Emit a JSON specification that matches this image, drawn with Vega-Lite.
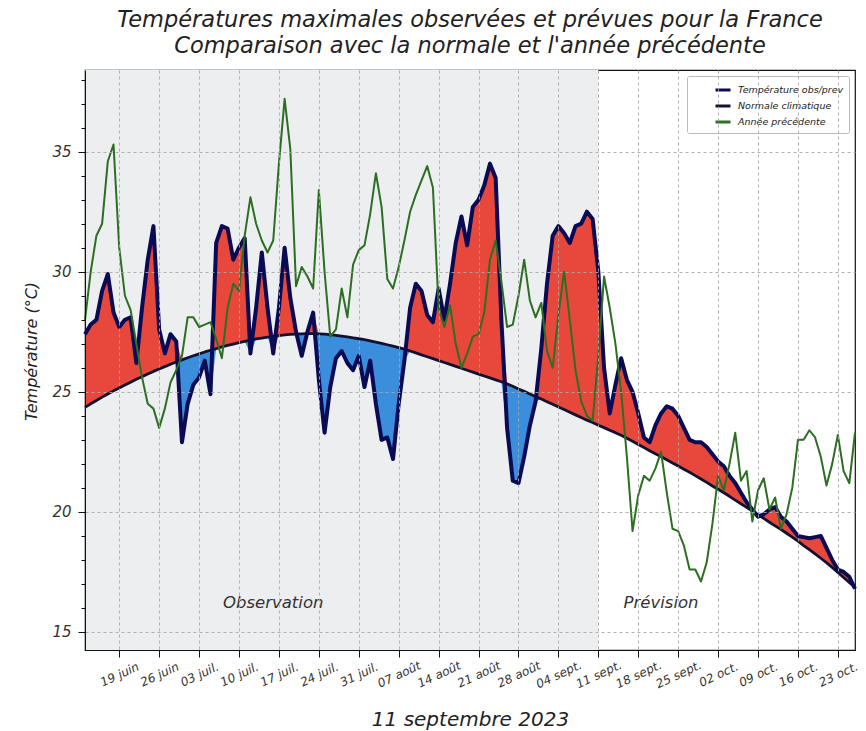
{
  "$schema": "https://vega.github.io/schema/vega-lite/v6.json",
  "width": 770,
  "height": 580,
  "autosize": {"type": "none"},
  "padding": {"left": 85, "top": 70, "right": 11, "bottom": 81},
  "background": "white",
  "title": {
    "text": ["Températures maximales observées et prévues pour la France", "Comparaison avec la normale et l'année précédente"],
    "font": "DejaVu Sans", "fontSize": 22.5, "fontStyle": "italic", "fontWeight": "normal",
    "color": "#222222", "anchor": "middle", "lineHeight": 26, "offset": 13
  },
  "data": {
    "values": [
      {"date":"2023-06-13","obs":27.4,"normal":24.35,"prev":28.0},
      {"date":"2023-06-14","obs":27.8,"normal":24.50,"prev":30.0},
      {"date":"2023-06-15","obs":28.0,"normal":24.64,"prev":31.5},
      {"date":"2023-06-16","obs":29.2,"normal":24.78,"prev":32.0},
      {"date":"2023-06-17","obs":29.9,"normal":24.91,"prev":34.6},
      {"date":"2023-06-18","obs":28.3,"normal":25.04,"prev":35.3},
      {"date":"2023-06-19","obs":27.7,"normal":25.16,"prev":31.0},
      {"date":"2023-06-20","obs":28.0,"normal":25.28,"prev":29.0},
      {"date":"2023-06-21","obs":28.1,"normal":25.40,"prev":28.4},
      {"date":"2023-06-22","obs":26.2,"normal":25.52,"prev":27.0},
      {"date":"2023-06-23","obs":28.5,"normal":25.63,"prev":25.6},
      {"date":"2023-06-24","obs":30.5,"normal":25.74,"prev":24.5},
      {"date":"2023-06-25","obs":31.9,"normal":25.85,"prev":24.3},
      {"date":"2023-06-26","obs":27.6,"normal":25.95,"prev":23.5},
      {"date":"2023-06-27","obs":26.6,"normal":26.05,"prev":24.3},
      {"date":"2023-06-28","obs":27.4,"normal":26.15,"prev":25.4},
      {"date":"2023-06-29","obs":27.1,"normal":26.24,"prev":25.9},
      {"date":"2023-06-30","obs":22.9,"normal":26.33,"prev":26.5},
      {"date":"2023-07-01","obs":24.5,"normal":26.42,"prev":28.1},
      {"date":"2023-07-02","obs":25.3,"normal":26.50,"prev":28.1},
      {"date":"2023-07-03","obs":25.6,"normal":26.58,"prev":27.7},
      {"date":"2023-07-04","obs":26.3,"normal":26.66,"prev":27.8},
      {"date":"2023-07-05","obs":24.9,"normal":26.73,"prev":27.9},
      {"date":"2023-07-06","obs":31.2,"normal":26.80,"prev":27.2},
      {"date":"2023-07-07","obs":31.9,"normal":26.87,"prev":26.4},
      {"date":"2023-07-08","obs":31.8,"normal":26.93,"prev":28.5},
      {"date":"2023-07-09","obs":30.5,"normal":26.99,"prev":29.5},
      {"date":"2023-07-10","obs":31.0,"normal":27.05,"prev":29.2},
      {"date":"2023-07-11","obs":31.4,"normal":27.10,"prev":31.5},
      {"date":"2023-07-12","obs":26.6,"normal":27.15,"prev":33.1},
      {"date":"2023-07-13","obs":28.5,"normal":27.20,"prev":32.0},
      {"date":"2023-07-14","obs":30.8,"normal":27.24,"prev":31.3},
      {"date":"2023-07-15","obs":28.5,"normal":27.28,"prev":30.8},
      {"date":"2023-07-16","obs":26.6,"normal":27.31,"prev":31.3},
      {"date":"2023-07-17","obs":28.5,"normal":27.34,"prev":34.5},
      {"date":"2023-07-18","obs":31.0,"normal":27.37,"prev":37.2},
      {"date":"2023-07-19","obs":28.9,"normal":27.39,"prev":35.1},
      {"date":"2023-07-20","obs":27.5,"normal":27.40,"prev":29.4},
      {"date":"2023-07-21","obs":26.5,"normal":27.41,"prev":30.2},
      {"date":"2023-07-22","obs":27.5,"normal":27.42,"prev":29.8},
      {"date":"2023-07-23","obs":28.3,"normal":27.42,"prev":29.3},
      {"date":"2023-07-24","obs":25.5,"normal":27.41,"prev":33.4},
      {"date":"2023-07-25","obs":23.3,"normal":27.40,"prev":30.0},
      {"date":"2023-07-26","obs":25.2,"normal":27.38,"prev":27.3},
      {"date":"2023-07-27","obs":26.4,"normal":27.35,"prev":27.6},
      {"date":"2023-07-28","obs":26.7,"normal":27.32,"prev":29.3},
      {"date":"2023-07-29","obs":26.2,"normal":27.29,"prev":28.1},
      {"date":"2023-07-30","obs":25.9,"normal":27.25,"prev":30.3},
      {"date":"2023-07-31","obs":26.5,"normal":27.21,"prev":30.9},
      {"date":"2023-08-01","obs":25.2,"normal":27.17,"prev":31.1},
      {"date":"2023-08-02","obs":26.3,"normal":27.12,"prev":32.4},
      {"date":"2023-08-03","obs":24.5,"normal":27.07,"prev":34.1},
      {"date":"2023-08-04","obs":23.0,"normal":27.02,"prev":32.7},
      {"date":"2023-08-05","obs":23.1,"normal":26.96,"prev":29.7},
      {"date":"2023-08-06","obs":22.2,"normal":26.90,"prev":29.3},
      {"date":"2023-08-07","obs":24.5,"normal":26.84,"prev":30.2},
      {"date":"2023-08-08","obs":26.3,"normal":26.78,"prev":31.3},
      {"date":"2023-08-09","obs":28.5,"normal":26.70,"prev":32.5},
      {"date":"2023-08-10","obs":29.5,"normal":26.62,"prev":33.2},
      {"date":"2023-08-11","obs":29.2,"normal":26.54,"prev":33.8},
      {"date":"2023-08-12","obs":28.2,"normal":26.46,"prev":34.4},
      {"date":"2023-08-13","obs":27.9,"normal":26.38,"prev":33.5},
      {"date":"2023-08-14","obs":29.3,"normal":26.30,"prev":28.5},
      {"date":"2023-08-15","obs":28.0,"normal":26.22,"prev":27.7},
      {"date":"2023-08-16","obs":29.5,"normal":26.14,"prev":28.6},
      {"date":"2023-08-17","obs":31.2,"normal":26.06,"prev":27.0},
      {"date":"2023-08-18","obs":32.3,"normal":25.98,"prev":26.0},
      {"date":"2023-08-19","obs":31.1,"normal":25.90,"prev":26.6},
      {"date":"2023-08-20","obs":32.7,"normal":25.82,"prev":27.3},
      {"date":"2023-08-21","obs":33.0,"normal":25.74,"prev":27.4},
      {"date":"2023-08-22","obs":33.6,"normal":25.66,"prev":28.3},
      {"date":"2023-08-23","obs":34.5,"normal":25.58,"prev":30.5},
      {"date":"2023-08-24","obs":33.9,"normal":25.50,"prev":31.3},
      {"date":"2023-08-25","obs":28.0,"normal":25.42,"prev":29.6},
      {"date":"2023-08-26","obs":23.5,"normal":25.33,"prev":27.7},
      {"date":"2023-08-27","obs":21.3,"normal":25.23,"prev":27.8},
      {"date":"2023-08-28","obs":21.2,"normal":25.12,"prev":29.0},
      {"date":"2023-08-29","obs":22.3,"normal":25.02,"prev":30.5},
      {"date":"2023-08-30","obs":23.6,"normal":24.91,"prev":28.8},
      {"date":"2023-08-31","obs":24.6,"normal":24.80,"prev":28.1},
      {"date":"2023-09-01","obs":26.8,"normal":24.70,"prev":28.7},
      {"date":"2023-09-02","obs":29.5,"normal":24.59,"prev":26.7},
      {"date":"2023-09-03","obs":31.5,"normal":24.48,"prev":26.0},
      {"date":"2023-09-04","obs":31.9,"normal":24.37,"prev":28.2},
      {"date":"2023-09-05","obs":31.6,"normal":24.26,"prev":30.0},
      {"date":"2023-09-06","obs":31.2,"normal":24.15,"prev":28.0},
      {"date":"2023-09-07","obs":31.9,"normal":24.04,"prev":25.9},
      {"date":"2023-09-08","obs":32.0,"normal":23.93,"prev":24.6},
      {"date":"2023-09-09","obs":32.5,"normal":23.82,"prev":24.0},
      {"date":"2023-09-10","obs":32.2,"normal":23.72,"prev":23.8},
      {"date":"2023-09-11","obs":30.0,"normal":23.61,"prev":26.5},
      {"date":"2023-09-12","obs":26.0,"normal":23.51,"prev":29.8},
      {"date":"2023-09-13","obs":24.1,"normal":23.40,"prev":28.5},
      {"date":"2023-09-14","obs":25.3,"normal":23.30,"prev":27.0},
      {"date":"2023-09-15","obs":26.4,"normal":23.19,"prev":25.0},
      {"date":"2023-09-16","obs":25.5,"normal":23.07,"prev":22.3},
      {"date":"2023-09-17","obs":25.0,"normal":22.94,"prev":19.2},
      {"date":"2023-09-18","obs":24.1,"normal":22.81,"prev":20.7},
      {"date":"2023-09-19","obs":23.1,"normal":22.68,"prev":21.5},
      {"date":"2023-09-20","obs":22.9,"normal":22.55,"prev":21.3},
      {"date":"2023-09-21","obs":23.6,"normal":22.42,"prev":21.8},
      {"date":"2023-09-22","obs":24.1,"normal":22.30,"prev":22.5},
      {"date":"2023-09-23","obs":24.4,"normal":22.17,"prev":20.8},
      {"date":"2023-09-24","obs":24.3,"normal":22.04,"prev":19.3},
      {"date":"2023-09-25","obs":24.0,"normal":21.91,"prev":19.2},
      {"date":"2023-09-26","obs":23.5,"normal":21.78,"prev":18.6},
      {"date":"2023-09-27","obs":23.0,"normal":21.65,"prev":17.6},
      {"date":"2023-09-28","obs":22.9,"normal":21.51,"prev":17.6},
      {"date":"2023-09-29","obs":22.9,"normal":21.37,"prev":17.1},
      {"date":"2023-09-30","obs":22.7,"normal":21.23,"prev":17.9},
      {"date":"2023-10-01","obs":22.4,"normal":21.08,"prev":19.5},
      {"date":"2023-10-02","obs":22.1,"normal":20.94,"prev":21.5},
      {"date":"2023-10-03","obs":21.9,"normal":20.80,"prev":20.9},
      {"date":"2023-10-04","obs":21.5,"normal":20.65,"prev":22.0},
      {"date":"2023-10-05","obs":21.2,"normal":20.49,"prev":23.3},
      {"date":"2023-10-06","obs":20.8,"normal":20.34,"prev":21.3},
      {"date":"2023-10-07","obs":20.4,"normal":20.19,"prev":21.7},
      {"date":"2023-10-08","obs":20.1,"normal":20.03,"prev":19.6},
      {"date":"2023-10-09","obs":19.8,"normal":19.88,"prev":20.9},
      {"date":"2023-10-10","obs":19.9,"normal":19.73,"prev":21.4},
      {"date":"2023-10-11","obs":20.1,"normal":19.57,"prev":20.1},
      {"date":"2023-10-12","obs":20.2,"normal":19.42,"prev":20.6},
      {"date":"2023-10-13","obs":19.8,"normal":19.27,"prev":19.3},
      {"date":"2023-10-14","obs":19.6,"normal":19.11,"prev":19.9},
      {"date":"2023-10-15","obs":19.3,"normal":18.95,"prev":21.0},
      {"date":"2023-10-16","obs":19.0,"normal":18.78,"prev":23.0},
      {"date":"2023-10-17","obs":18.95,"normal":18.60,"prev":23.0},
      {"date":"2023-10-18","obs":18.9,"normal":18.43,"prev":23.4},
      {"date":"2023-10-19","obs":18.95,"normal":18.25,"prev":23.1},
      {"date":"2023-10-20","obs":19.0,"normal":18.07,"prev":22.3},
      {"date":"2023-10-21","obs":18.5,"normal":17.89,"prev":21.1},
      {"date":"2023-10-22","obs":18.0,"normal":17.69,"prev":22.0},
      {"date":"2023-10-23","obs":17.6,"normal":17.48,"prev":23.2},
      {"date":"2023-10-24","obs":17.5,"normal":17.27,"prev":21.7},
      {"date":"2023-10-25","obs":17.3,"normal":17.06,"prev":21.2},
      {"date":"2023-10-26","obs":16.8,"normal":16.85,"prev":23.3}
    ],
    "format": {"parse": {"date": "utc:'%Y-%m-%d'"}}
  },
  "layer": [
    {
      "data": {"values": [{"start": "2023-06-13", "end": "2023-09-11"}], "format": {"parse": {"start": "utc:'%Y-%m-%d'", "end": "utc:'%Y-%m-%d'"}}},
      "mark": {"type": "rect", "color": "#eceef0"},
      "encoding": {
        "x": {
          "field": "start", "type": "temporal", "title": "11 septembre 2023",
          "scale": {"type": "utc", "domain": [{"year": 2023, "month": 6, "date": 13, "utc": true}, {"year": 2023, "month": 10, "date": 26, "utc": true}]},
          "axis": {
            "values": [
              {"year": 2023, "month": 6, "date": 19, "utc": true},
              {"year": 2023, "month": 6, "date": 26, "utc": true},
              {"year": 2023, "month": 7, "date": 3, "utc": true},
              {"year": 2023, "month": 7, "date": 10, "utc": true},
              {"year": 2023, "month": 7, "date": 17, "utc": true},
              {"year": 2023, "month": 7, "date": 24, "utc": true},
              {"year": 2023, "month": 7, "date": 31, "utc": true},
              {"year": 2023, "month": 8, "date": 7, "utc": true},
              {"year": 2023, "month": 8, "date": 14, "utc": true},
              {"year": 2023, "month": 8, "date": 21, "utc": true},
              {"year": 2023, "month": 8, "date": 28, "utc": true},
              {"year": 2023, "month": 9, "date": 4, "utc": true},
              {"year": 2023, "month": 9, "date": 11, "utc": true},
              {"year": 2023, "month": 9, "date": 18, "utc": true},
              {"year": 2023, "month": 9, "date": 25, "utc": true},
              {"year": 2023, "month": 10, "date": 2, "utc": true},
              {"year": 2023, "month": 10, "date": 9, "utc": true},
              {"year": 2023, "month": 10, "date": 16, "utc": true},
              {"year": 2023, "month": 10, "date": 23, "utc": true}
            ],
            "tickCount": 100,
            "labelExpr": "utcFormat(datum.value, '%d') + ' ' + ['janv.','févr.','mars','avr.','mai','juin','juil.','août','sept.','oct.','nov.','déc.'][utcmonth(datum.value)]",
            "labelAngle": -25, "labelAlign": "center", "labelBaseline": "middle", "labelPadding": 17,
            "labelFontSize": 12, "tickSize": 7, "labelOverlap": false, "labelFlush": false,
            "titleFontSize": 20, "titlePadding": 20, "grid": true, "zindex": 1
          }
        },
        "x2": {"field": "end"}
      }
    },
    {
      "transform": [
        {"fold": ["obs", "normal"], "as": ["k", "v"]},
        {"aggregate": [{"op": "max", "field": "v", "as": "hi"}, {"op": "min", "field": "v", "as": "lo"}, {"op": "mean", "field": "normal", "as": "norm"}], "groupby": ["date"]}
      ],
      "mark": {"type": "area", "color": "#e8483b", "opacity": 1},
      "encoding": {
        "x": {"field": "date", "type": "temporal", "title": "11 septembre 2023"},
        "y": {
          "field": "hi", "type": "quantitative", "title": "Température (°C)",
          "scale": {"domain": [14.25, 38.4], "nice": false, "zero": false},
          "axis": {
            "values": [15,16,17,18,19,20,21,22,23,24,25,26,27,28,29,30,31,32,33,34,35,36,37,38],
            "tickCount": 100,
            "format": "d",
            "labelExpr": "datum.value % 5 === 0 ? datum.label : ''",
            "labelOverlap": false,
            "tickSize": {"condition": {"test": "datum.value % 5 === 0", "value": 7}, "value": 4},
            "gridOpacity": {"condition": {"test": "datum.value % 5 === 0", "value": 1}, "value": 0},
            "labelFontSize": 15, "labelPadding": 7, "titleFontSize": 16, "titlePadding": 12, "titleY": 281,
            "grid": true, "zindex": 1
          }
        },
        "y2": {"field": "norm"}
      }
    },
    {
      "transform": [
        {"fold": ["obs", "normal"], "as": ["k", "v"]},
        {"aggregate": [{"op": "max", "field": "v", "as": "hi"}, {"op": "min", "field": "v", "as": "lo"}, {"op": "mean", "field": "normal", "as": "norm"}], "groupby": ["date"]}
      ],
      "mark": {"type": "area", "color": "#3a8edb", "opacity": 1},
      "encoding": {
        "x": {"field": "date", "type": "temporal", "title": "11 septembre 2023"},
        "y": {"field": "lo", "type": "quantitative", "title": "Température (°C)"},
        "y2": {"field": "norm"}
      }
    },
    {
      "mark": {"type": "line", "strokeWidth": 2.8, "strokeJoin": "round"},
      "encoding": {
        "x": {"field": "date", "type": "temporal", "title": "11 septembre 2023"},
        "y": {"field": "normal", "type": "quantitative", "title": "Température (°C)"},
        "color": {
          "datum": "Normale climatique", "type": "nominal",
          "scale": {"domain": ["Température obs/prev", "Normale climatique", "Année précédente"], "range": ["#0b0b55", "#121230", "#2c6e22"]},
          "legend": {"title": null}
        }
      }
    },
    {
      "mark": {"type": "line", "strokeWidth": 4, "strokeJoin": "round"},
      "encoding": {
        "x": {"field": "date", "type": "temporal", "title": "11 septembre 2023"},
        "y": {"field": "obs", "type": "quantitative", "title": "Température (°C)"},
        "color": {"datum": "Température obs/prev", "type": "nominal"}
      }
    },
    {
      "mark": {"type": "line", "strokeWidth": 2, "strokeJoin": "round"},
      "encoding": {
        "x": {"field": "date", "type": "temporal", "title": "11 septembre 2023"},
        "y": {"field": "prev", "type": "quantitative", "title": "Température (°C)"},
        "color": {"datum": "Année précédente", "type": "nominal"}
      }
    },
    {
      "data": {"values": [{"date": "2023-07-16", "t": 16.2, "label": "Observation"}, {"date": "2023-09-22", "t": 16.2, "label": "Prévision"}], "format": {"parse": {"date": "utc:'%Y-%m-%d'"}}},
      "mark": {"type": "text", "font": "DejaVu Sans", "fontStyle": "italic", "fontSize": 16.5, "color": "#333333", "align": "center", "baseline": "middle"},
      "encoding": {
        "x": {"field": "date", "type": "temporal", "title": "11 septembre 2023"},
        "y": {"field": "t", "type": "quantitative", "title": "Température (°C)"},
        "text": {"field": "label"}
      }
    }
  ],
  "config": {
    "view": {"stroke": "#111111", "strokeWidth": 1.2},
    "axis": {
      "domainColor": "#111111", "tickColor": "#111111", "gridColor": "#a8a8a8", "gridDash": [3, 3], "gridWidth": 0.9,
      "labelFont": "DejaVu Sans", "labelFontStyle": "italic", "labelColor": "#333333",
      "titleFont": "DejaVu Sans", "titleFontStyle": "italic", "titleFontWeight": "normal", "titleColor": "#222222",
      "zindex": 1
    },
    "legend": {
      "orient": "top-right", "offset": 6, "symbolType": "stroke", "symbolStrokeWidth": 3, "symbolSize": 225, "symbolOffset": 22,
      "labelFont": "DejaVu Sans", "labelFontStyle": "italic", "labelFontSize": 9.5, "labelColor": "#222222",
      "strokeColor": "#bbbbbb", "fillColor": "white", "padding": 5, "rowPadding": 1, "cornerRadius": 2, "labelOffset": 6
    }
  }
}
